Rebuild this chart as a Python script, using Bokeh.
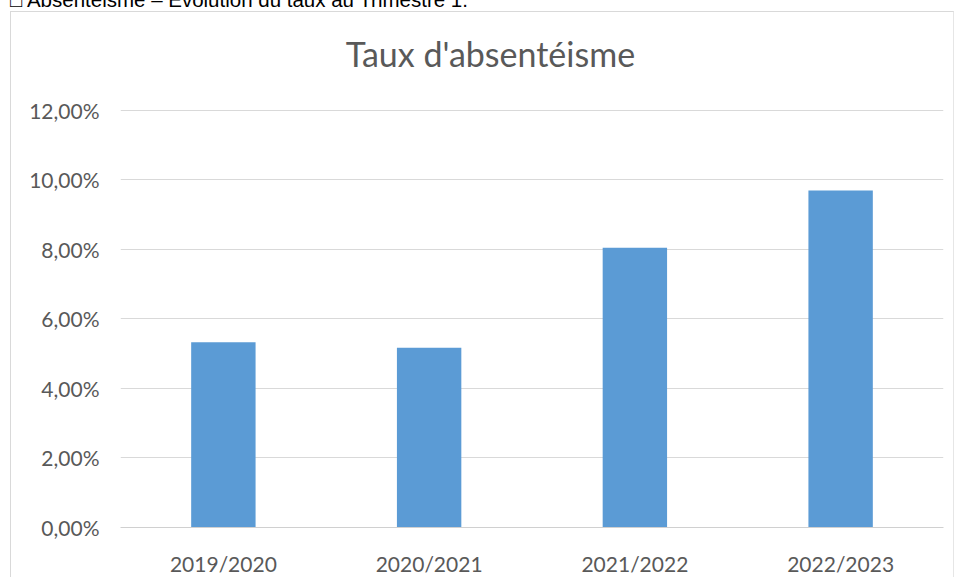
from bokeh.plotting import figure
from bokeh.models import (ColumnDataSource, Range1d, FactorRange, CustomJSTickFormatter,
                          FixedTicker, Label, Div)
from bokeh.layouts import column
from bokeh.embed import file_html
from bokeh.resources import INLINE

# Data
categories = ["2019/2020", "2020/2021", "2021/2022", "2022/2023"]
rates = [5.33, 5.17, 8.05, 9.70]  # percent
y_ticks = [0, 2, 4, 6, 8, 10, 12]
title_text = "Taux d'absentéisme"
heading_text = "\u25a1 Absentéisme \u2013 Évolution du taux au Trimestre 1."

FONT = "Lato"
TXT = "#595959"

src = ColumnDataSource(dict(cat=categories, val=rates))

heading = Div(
    text=('<div style="position:relative; top:-10px; left:10px; '
          'font-family:\'Liberation Sans\'; font-size:20.5px; line-height:20px; '
          'color:#000; white-space:nowrap;">' + heading_text + '</div>'),
    width=940, height=8,
)
heading.margin = (0, 0, 0, 0)

# y range extends above 12% to leave room for the chart title inside the frame
p = figure(
    width=944, height=566,
    x_range=FactorRange(*categories, range_padding=0),
    y_range=Range1d(0, 14.82),
    output_backend="svg", toolbar_location=None,
    min_border_left=109, min_border_right=12, min_border_top=0, min_border_bottom=51,
)
p.margin = (3, 0, 0, 10)
p.styles = {"border-left": "1px solid #d9d9d9", "border-top": "1px solid #d9d9d9",
            "border-right": "1px solid #e6e6e6"}

p.vbar(x="cat", top="val", width=0.313, source=src, color="#5B9BD5", line_color=None)

p.add_layout(Label(x=1.798, y=13.64, text=title_text,
                   text_align="center", text_baseline="alphabetic",
                   text_font=FONT, text_font_size="34px", text_color=TXT))

p.yaxis.ticker = FixedTicker(ticks=y_ticks)
p.yaxis.formatter = CustomJSTickFormatter(code="return tick.toFixed(2).replace('.', ',') + '%';")
p.yaxis.axis_line_color = None
p.yaxis.major_tick_line_color = None
p.yaxis.minor_tick_line_color = None
p.yaxis.major_label_standoff = 15
p.yaxis.major_label_text_font = FONT
p.yaxis.major_label_text_font_size = "21px"
p.yaxis.major_label_text_color = TXT

p.xaxis.axis_line_color = "#d0d0d0"
p.xaxis.major_tick_line_color = None
p.xaxis.minor_tick_line_color = None
p.xaxis.major_label_standoff = 17
p.xaxis.major_label_text_font = FONT
p.xaxis.major_label_text_font_size = "21px"
p.xaxis.major_label_text_color = TXT

p.xgrid.grid_line_color = None
p.ygrid.grid_line_color = "#d9d9d9"
p.ygrid.ticker = FixedTicker(ticks=y_ticks)
p.outline_line_color = None

layout = column(heading, p, spacing=0)
open("out.html", "w").write(file_html(layout, INLINE))
